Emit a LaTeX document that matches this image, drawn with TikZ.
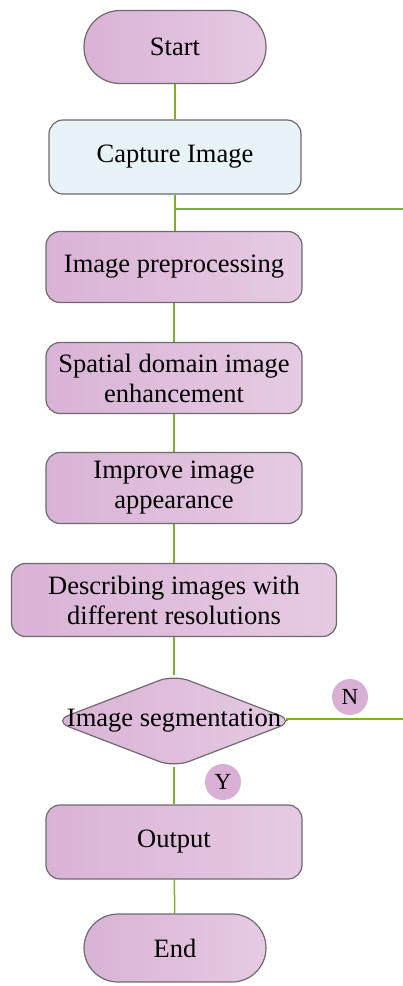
\documentclass[tikz,border=0pt]{standalone}
\usepackage{fontspec}
\setmainfont{Liberation Serif}
\usetikzlibrary{backgrounds}
\definecolor{pinkL}{HTML}{D9B3D6}
\definecolor{pinkR}{HTML}{E6CAE2}
\definecolor{blueF}{HTML}{E7F3F6}
\definecolor{edgeG}{HTML}{6E6A6E}
\definecolor{lineG}{HTML}{7DAF2C}
\definecolor{circF}{HTML}{D9AFD5}
\tikzset{
  base/.style={draw=edgeG, line width=1.2pt, align=center, inner sep=0pt,
    font=\fontsize{26.5}{30}\selectfont},
  pinkbox/.style={base, left color=pinkL, right color=pinkR, rounded corners=14pt},
  term/.style={base, left color=pinkL, right color=pinkR, rounded corners=36pt,
    minimum width=182pt, minimum height=73pt},
  proc/.style={pinkbox, minimum width=256pt, minimum height=71pt},
  conn/.style={draw=lineG, line width=1.5pt},
  badge/.style={circle, fill=circF, minimum size=36pt, inner sep=0pt,
    font=\fontsize{23}{24}\selectfont},
}
\begin{document}
\begin{tikzpicture}[x=1pt,y=-1pt]
\useasboundingbox (0,0) rectangle (403,986);
\node[term] (start) at (175,47) {Start};
\node[base, fill=blueF, rounded corners=14pt, minimum width=252pt, minimum height=74pt] (cap) at (175,157) {Capture Image};
\coordinate (j) at (175,209);
\coordinate (jr) at (403,209);
\node[proc] (pre) at (174,267) {Image preprocessing};
\node[proc] (spa) at (174,378) {Spatial domain image\\enhancement};
\node[proc] (imp) at (174,488) {Improve image\\appearance};
\node[pinkbox, minimum width=325pt, minimum height=73pt] (des) at (174,600) {Describing images with\\different resolutions};
\node[font=\fontsize{26.5}{30}\selectfont, inner sep=0pt, minimum width=234pt, minimum height=92pt] (seg) at (174,721) {Image segmentation};
\coordinate (se) at ([xshift=-4pt]seg.east);
\coordinate (sr) at (403,719);
\node[badge] (n) at (350,697) {N};
\node[badge] (y) at (223,782) {Y};
\node[proc, minimum height=74pt] (out) at (174,842) {Output};
\node[term, minimum height=68pt, rounded corners=34pt] (end) at (175,948) {End};
\begin{pgfonlayer}{background}
\draw[conn] (start) -- (cap);
\draw[conn] (cap) -- (j) -- (j|-pre.north);
\draw[conn] (j) -- (jr);
\draw[conn] (pre) -- (spa);
\draw[conn] (spa) -- (imp);
\draw[conn] (imp) -- (des);
\draw[conn] (des) -- (seg);
\draw[conn] (se) -- (se|-sr) -- (sr);
\draw[conn] (seg) -- (out);
\draw[conn] (out) -- (end);
\path[draw=edgeG, line width=1.2pt, left color=pinkL, right color=pinkR, rounded corners=16pt]
  ([xshift=-3pt]seg.west) -- (seg.north) -- ([xshift=3pt]seg.east) -- (seg.south) -- cycle;
\end{pgfonlayer}
\end{tikzpicture}
\end{document}
